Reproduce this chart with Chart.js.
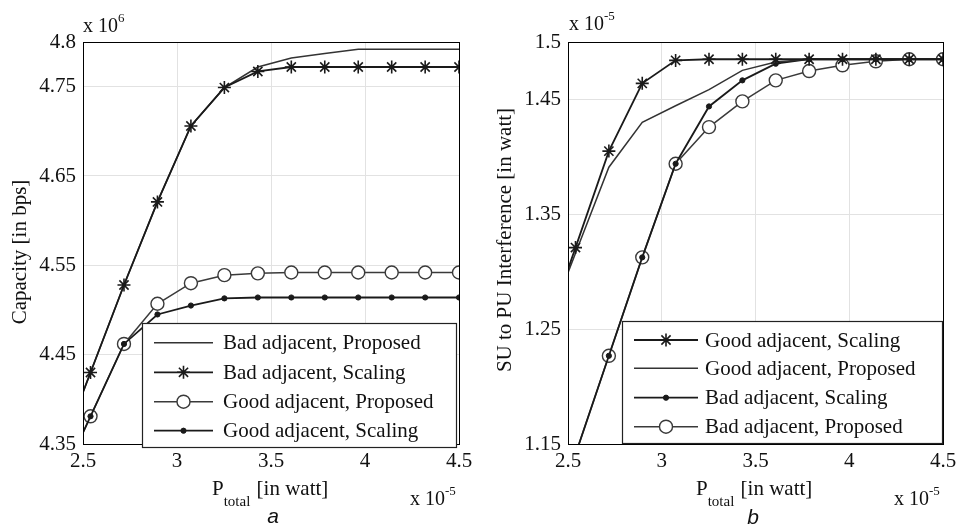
<!DOCTYPE html>
<html><head><meta charset="utf-8">
<script src="https://cdn.jsdelivr.net/npm/chart.js@4.4.0/dist/chart.umd.min.js"></script>
<style>
html,body{margin:0;padding:0;background:#fff;}
#wrap{position:relative;width:956px;height:531px;overflow:hidden;background:#fff;}
.c{position:absolute;top:0;width:478px;height:531px;}
</style></head><body>
<div id="wrap">
<div class="c" style="left:0"><canvas id="ca" width="478" height="531"></canvas></div>
<div class="c" style="left:478px"><canvas id="cb" width="478" height="531"></canvas></div>
</div>
<script>
// ---- data (P_total in units of 1e-5 W) ----
const pTotal = [2.362, 2.54, 2.718, 2.896, 3.074, 3.252, 3.43, 3.608, 3.786, 3.964, 4.142, 4.32, 4.5];

// panel a: Capacity (x 1e6 bps)
const capBadProposed  = [4.332, 4.430, 4.528, 4.621, 4.706, 4.749, 4.772, 4.782, 4.787, 4.792, 4.792, 4.792, 4.792];
const capBadScaling   = [4.332, 4.430, 4.528, 4.621, 4.706, 4.749, 4.767, 4.772, 4.772, 4.772, 4.772, 4.772, 4.772];
const capGoodProposed = [4.300, 4.381, 4.462, 4.507, 4.530, 4.539, 4.541, 4.542, 4.542, 4.542, 4.542, 4.542, 4.542];
const capGoodScaling  = [4.300, 4.381, 4.462, 4.495, 4.505, 4.513, 4.514, 4.514, 4.514, 4.514, 4.514, 4.514, 4.514];

// panel b: SU to PU interference (x 1e-5 W)
const intGoodScaling  = [1.237, 1.321, 1.405, 1.464, 1.484, 1.485, 1.485, 1.485, 1.485, 1.485, 1.485, 1.485, 1.485];
const intGoodProposed = [1.241, 1.316, 1.391, 1.430, 1.4445, 1.4585, 1.4753, 1.4826, 1.485, 1.485, 1.485, 1.485, 1.485];
const intBadScaling   = [1.055, 1.141, 1.2268, 1.3125, 1.394, 1.4439, 1.4666, 1.4811, 1.485, 1.485, 1.485, 1.485, 1.485];
const intBadProposed  = [1.055, 1.141, 1.2268, 1.3125, 1.394, 1.4259, 1.4483, 1.4666, 1.4747, 1.4797, 1.4832, 1.485, 1.485];

const xTicks = [2.5, 3, 3.5, 4, 4.5];
const xTickLabels = ['2.5', '3', '3.5', '4', '4.5'];
const yTicksA = [4.35, 4.45, 4.55, 4.65, 4.75, 4.8];
const yTickLabelsA = ['4.35', '4.45', '4.55', '4.65', '4.75', '4.8'];
const yTicksB = [1.15, 1.25, 1.35, 1.45, 1.5];
const yTickLabelsB = ['1.15', '1.25', '1.35', '1.45', '1.5'];

const legendA = ['Bad adjacent, Proposed', 'Bad adjacent, Scaling', 'Good adjacent, Proposed', 'Good adjacent, Scaling'];
const legendB = ['Good adjacent, Scaling', 'Good adjacent, Proposed', 'Bad adjacent, Scaling', 'Bad adjacent, Proposed'];

// ---- styles ----
const SERIF = '"Liberation Serif", "Times New Roman", serif';
const STY = {
  plain: {pointStyle: false, radius: 0, color: '#333', width: 1.5},
  star:  {pointStyle: 'star', radius: 6.5, color: '#1a1a1a', width: 1.8},
  circle:{pointStyle: 'circle', radius: 6.5, color: '#3a3a3a', width: 1.5},
  dot:   {pointStyle: 'circle', radius: 2.6, color: '#1a1a1a', width: 1.8}
};

function pts(ys) { return pTotal.map((x, i) => ({x: x, y: ys[i]})); }

function ds(label, ys, kind, order) {
  const s = STY[kind];
  return {
    label: label, data: pts(ys), order: order,
    borderColor: s.color, borderWidth: s.width,
    pointStyle: s.pointStyle === false ? 'circle' : s.pointStyle,
    pointRadius: s.radius,
    pointBorderColor: s.color,
    pointBackgroundColor: kind === 'circle' ? '#fff' : s.color,
    pointBorderWidth: kind === 'dot' ? 1 : (kind === 'star' ? 1.6 : 1.4),
    tension: 0, fill: false
  };
}

function drawRich(ctx, parts, x, y) {
  let cx = x;
  parts.forEach(p => {
    ctx.font = (p.style || '') + ' ' + p.size + 'px ' + (p.family || SERIF);
    ctx.textAlign = 'left';
    ctx.textBaseline = 'alphabetic';
    ctx.fillStyle = '#111';
    ctx.fillText(p.t, cx, y + (p.dy || 0));
    cx += ctx.measureText(p.t).width + (p.gap || 0);
  });
}

function makePlugin(cfg) {
  return {
    id: 'deco',
    afterDatasetsDraw(chart) {
      const ctx = chart.ctx, a = chart.chartArea;
      ctx.save();
      ctx.strokeStyle = '#000'; ctx.lineWidth = 1;
      ctx.strokeRect(Math.round(a.left) + 0.5, Math.round(a.top) + 0.5, Math.round(a.right - a.left), Math.round(a.bottom - a.top));
      // legend
      const L = cfg.legend;
      ctx.fillStyle = '#fff';
      ctx.fillRect(L.x0, L.y0, L.x1 - L.x0, L.y1 - L.y0);
      ctx.strokeStyle = '#222'; ctx.lineWidth = 1.2;
      ctx.strokeRect(L.x0 + 0.5, L.y0 + 0.5, L.x1 - L.x0, L.y1 - L.y0);
      L.items.forEach((it, i) => {
        const y = L.rows[i];
        const d = chart.data.datasets[it.ds];
        ctx.strokeStyle = d.borderColor; ctx.lineWidth = d.borderWidth;
        ctx.beginPath(); ctx.moveTo(L.lx0, y); ctx.lineTo(L.lx1, y); ctx.stroke();
        if (d.pointRadius > 0) {
          ctx.strokeStyle = d.pointBorderColor; ctx.fillStyle = d.pointBackgroundColor;
          ctx.lineWidth = d.pointBorderWidth;
          Chart.helpers.drawPoint(ctx, {pointStyle: d.pointStyle, radius: d.pointRadius, rotation: 0, borderWidth: d.pointBorderWidth}, (L.lx0 + L.lx1) / 2, y);
        }
        ctx.font = '21px ' + SERIF; ctx.fillStyle = '#111';
        ctx.textAlign = 'left'; ctx.textBaseline = 'middle';
        ctx.fillText(it.label, L.tx, y + 1);
      });
      ctx.restore();
    },
    afterDraw(chart) {
      const ctx = chart.ctx;
      ctx.save();
      ctx.translate(cfg.yTitle.x, cfg.yTitle.y); ctx.rotate(-Math.PI / 2);
      ctx.font = '21px ' + SERIF; ctx.fillStyle = '#111';
      ctx.textAlign = 'center'; ctx.textBaseline = 'middle';
      ctx.fillText(cfg.yTitle.t, 0, 0);
      ctx.restore();
      ctx.save();
      drawRich(ctx, [{t: 'P', size: 21}, {t: 'total', size: 15, dy: 11, gap: 1}, {t: ' [in watt]', size: 21}], cfg.xTitle.x, cfg.xTitle.y);
      drawRich(ctx, [{t: 'x 10', size: 20}, {t: cfg.topExp.e, size: 13, dy: -10}], cfg.topExp.x, cfg.topExp.y);
      drawRich(ctx, [{t: 'x 10', size: 20}, {t: '-5', size: 13, dy: -10}], cfg.botExp.x, cfg.botExp.y);
      ctx.font = 'italic 21px "Liberation Sans", Arial, sans-serif';
      ctx.textAlign = 'center'; ctx.textBaseline = 'alphabetic'; ctx.fillStyle = '#111';
      ctx.fillText(cfg.tag.t, cfg.tag.x, cfg.tag.y);
      ctx.restore();
    }
  };
}

function makeChart(id, datasets, yTicks, yLabels, yMin, yMax, yWidth, padRight, padTop, cfg) {
  const tickFont = {family: SERIF, size: 21};
  return new Chart(document.getElementById(id), {
    type: 'line',
    data: {datasets: datasets},
    options: {
      responsive: false, animation: false, devicePixelRatio: 1,
      layout: {padding: {top: padTop, right: padRight, left: 0, bottom: 0}},
      plugins: {legend: {display: false}, tooltip: {enabled: false}},
      scales: {
        x: {
          type: 'linear', min: 2.5, max: 4.5,
          afterBuildTicks: s => { s.ticks = xTicks.map(v => ({value: v})); },
          afterFit: s => { s.height = 531 - 444; s.paddingLeft = 0; s.paddingRight = 0; },
          ticks: {font: tickFont, color: '#111', padding: 5, maxRotation: 0,
                  callback: (v) => { const i = xTicks.indexOf(v); return i >= 0 ? xTickLabels[i] : ''; }},
          grid: {color: '#e2e2e2', lineWidth: 1, drawTicks: false},
          border: {display: true, color: '#000', width: 1}
        },
        y: {
          type: 'linear', min: yMin, max: yMax,
          afterBuildTicks: s => { s.ticks = yTicks.map(v => ({value: v})); },
          afterFit: s => { s.width = yWidth; s.paddingTop = 0; s.paddingBottom = 0; },
          ticks: {font: tickFont, color: '#111', padding: 7,
                  callback: (v) => { const i = yTicks.findIndex(t => Math.abs(t - v) < 1e-9); return i >= 0 ? yLabels[i] : ''; }},
          grid: {color: '#e2e2e2', lineWidth: 1, drawTicks: false},
          border: {display: true, color: '#000', width: 1}
        }
      }
    },
    plugins: [makePlugin(cfg)]
  });
}

makeChart('ca', [
  ds(legendA[0], capBadProposed, 'plain', 1),
  ds(legendA[1], capBadScaling, 'star', 0),
  ds(legendA[2], capGoodProposed, 'circle', 3),
  ds(legendA[3], capGoodScaling, 'dot', 2)
], yTicksA, yTickLabelsA, 4.35, 4.8, 83, 19, 42, {
  legend: {x0: 142, y0: 323, x1: 456, y1: 447, rows: [342.7, 372.3, 401.7, 430.7], lx0: 154, lx1: 213, tx: 223,
           items: [{ds: 0, label: legendA[0]}, {ds: 1, label: legendA[1]}, {ds: 2, label: legendA[2]}, {ds: 3, label: legendA[3]}]},
  yTitle: {t: 'Capacity [in bps]', x: 20, y: 252},
  xTitle: {x: 212, y: 495},
  topExp: {x: 83, y: 32, e: '6'},
  botExp: {x: 410, y: 505},
  tag: {t: 'a', x: 273, y: 523}
});

makeChart('cb', [
  ds(legendB[0], intGoodScaling, 'star', 0),
  ds(legendB[1], intGoodProposed, 'plain', 1),
  ds(legendB[2], intBadScaling, 'dot', 2),
  ds(legendB[3], intBadProposed, 'circle', 3)
], yTicksB, yTickLabelsB, 1.15, 1.5, 90, 13, 42, {
  legend: {x0: 144, y0: 321, x1: 464, y1: 443, rows: [340, 368.3, 397.7, 426.7], lx0: 156, lx1: 220, tx: 227,
           items: [{ds: 0, label: legendB[0]}, {ds: 1, label: legendB[1]}, {ds: 2, label: legendB[2]}, {ds: 3, label: legendB[3]}]},
  yTitle: {t: 'SU to PU Interference [in watt]', x: 27, y: 240},
  xTitle: {x: 218, y: 495},
  topExp: {x: 91, y: 30, e: '-5'},
  botExp: {x: 416, y: 505},
  tag: {t: 'b', x: 275, y: 524}
});
</script>
</body></html>
